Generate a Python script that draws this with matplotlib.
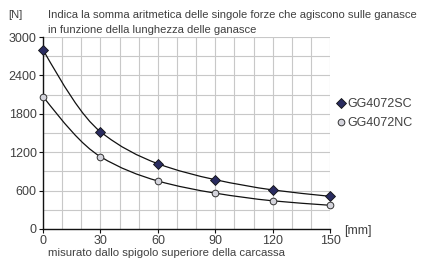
import matplotlib
matplotlib.use("Agg")
import matplotlib.pyplot as plt
from matplotlib.path import Path
from matplotlib.patches import PathPatch
import numpy as np

plt.rcParams['font.family'] = ['Liberation Sans', 'DejaVu Sans']

x_mm = [0, 30, 60, 90, 120, 150]
sc_vals = [2800, 1520, 1020, 770, 610, 510]
nc_vals = [2070, 1130, 750, 560, 440, 370]
series_names = ["GG4072SC", "GG4072NC"]
x_ticks = [0, 30, 60, 90, 120, 150]
y_ticks = [0, 600, 1200, 1800, 2400, 3000]

txt = '#404040'


def smooth_path(xs, ys):
    """Cubic Bezier path through the data points (monotone Hermite tangents)."""
    xs = np.asarray(xs, float)
    ys = np.asarray(ys, float)
    h = np.diff(xs)
    d = np.diff(ys) / h
    m = np.zeros_like(ys)
    m[0] = d[0]
    m[-1] = d[-1]
    for i in range(1, len(xs) - 1):
        if d[i - 1] * d[i] > 0:
            w1 = 2 * h[i] + h[i - 1]
            w2 = h[i] + 2 * h[i - 1]
            m[i] = (w1 + w2) / (w1 / d[i - 1] + w2 / d[i])
    m[0] = (3 * d[0] - m[1]) / 2
    verts = [(xs[0], ys[0])]
    codes = [Path.MOVETO]
    for i in range(len(xs) - 1):
        verts += [(xs[i] + h[i] / 3, ys[i] + m[i] * h[i] / 3),
                  (xs[i + 1] - h[i] / 3, ys[i + 1] - m[i + 1] * h[i] / 3),
                  (xs[i + 1], ys[i + 1])]
        codes += [Path.CURVE4] * 3
    return Path(verts, codes)


fig = plt.figure(figsize=(4.26, 2.59), dpi=100)
ax = fig.add_axes([0.101, 0.116, 0.674, 0.741])
ax.set_xlim(0, 150)
ax.set_ylim(0, 3000)
ax.set_xticks(np.arange(0, 151, 10), minor=True)
ax.set_yticks(np.arange(0, 3001, 300), minor=True)
ax.set_xticks(x_ticks)
ax.set_yticks(y_ticks)
ax.grid(True, which='both', color='#c8c8c8', lw=0.8)
ax.set_axisbelow(True)
for s in ['top', 'right']:
    ax.spines[s].set_visible(False)
for s in ['left', 'bottom']:
    ax.spines[s].set_color('#111111')
    ax.spines[s].set_linewidth(1.0)
ax.tick_params(which='minor', length=0)
ax.tick_params(which='major', length=3, color='#111111', labelsize=9, labelcolor=txt, pad=1.5)
ax.set_xticklabels([str(v) for v in x_ticks])

for xs, ys in [(x_mm, sc_vals), (x_mm, nc_vals)]:
    ax.add_patch(PathPatch(smooth_path(xs, ys), fill=False, ec='#111111', lw=0.9,
                           zorder=2, clip_on=False))

ax.plot(x_mm, sc_vals, ls='None', marker='D', ms=4.8,
        mfc='#2a2c60', mec='#111111', mew=0.6, label=series_names[0], clip_on=False, zorder=3)
ax.plot(x_mm, nc_vals, ls='None', marker='o', ms=4.8,
        mfc='#d4d4dc', mec='#333333', mew=0.7, label=series_names[1], clip_on=False, zorder=3)

fig.text(8/426, 1-15/259, "[N]", fontsize=8.1, color=txt, va='center', ha='left')
fig.text(48/426, 1-15/259, "Indica la somma aritmetica delle singole forze che agiscono sulle ganasce",
         fontsize=8.1, color=txt, va='center', ha='left')
fig.text(48/426, 1-30/259, "in funzione della lunghezza delle ganasce",
         fontsize=8.1, color=txt, va='center', ha='left')
fig.text(344/426, 1-231/259, "[mm]", fontsize=9, color=txt, va='center', ha='left')
fig.text(48/426, 1-253/259, "misurato dallo spigolo superiore della carcassa",
         fontsize=8.2, color=txt, va='center', ha='left')

leg = fig.legend(loc='upper left', bbox_to_anchor=(337/426, 1-98/259), frameon=False,
                 fontsize=9, handlelength=0.6, handletextpad=0.2, labelspacing=0.6,
                 borderpad=0, borderaxespad=0)
for t in leg.get_texts():
    t.set_color(txt)

fig.savefig("out.png", dpi=100)
